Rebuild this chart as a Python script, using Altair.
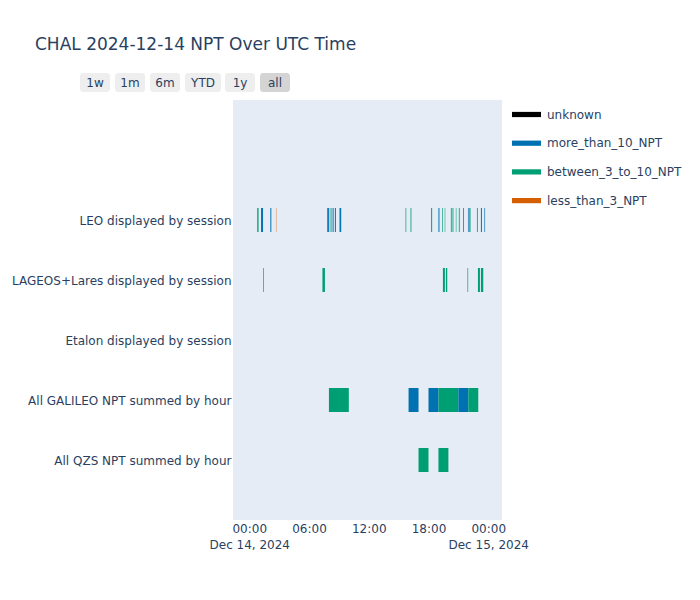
import json
import altair as alt
import pandas as pd

FONT = "DejaVu Sans"
TXT = "#2a3f5f"

categories = [
    "LEO displayed by session",
    "LAGEOS+Lares displayed by session",
    "Etalon displayed by session",
    "All GALILEO NPT summed by hour",
    "All QZS NPT summed by hour",
]
status_names = ["unknown", "more_than_10_NPT", "between_3_to_10_NPT", "less_than_3_NPT"]
status_colors = ["#000000", "#0072B2", "#009E73", "#D55E00"]

# LEO sessions (UTC, Dec 14)
leo_start = ["00:48", "01:11", "02:07", "02:41", "07:50", "08:05", "08:16", "08:25",
             "08:36", "09:04", "15:42", "16:12", "18:16", "19:00", "19:22", "19:38",
             "20:15", "20:25", "20:45", "21:03", "21:28", "21:58", "22:06", "22:52",
             "23:16", "23:37"]
leo_end = ["00:56", "01:23", "02:13", "02:43", "08:00", "08:09", "08:21", "08:29",
           "08:42", "09:14", "15:46", "16:17", "18:22", "19:06", "19:26", "19:41",
           "20:20", "20:30", "20:48", "21:08", "21:33", "22:02", "22:13", "22:57",
           "23:22", "23:41"]
leo_status = ["between_3_to_10_NPT", "more_than_10_NPT", "more_than_10_NPT", "less_than_3_NPT",
              "more_than_10_NPT", "between_3_to_10_NPT", "more_than_10_NPT", "between_3_to_10_NPT",
              "more_than_10_NPT", "more_than_10_NPT", "between_3_to_10_NPT", "between_3_to_10_NPT",
              "between_3_to_10_NPT", "more_than_10_NPT", "between_3_to_10_NPT", "between_3_to_10_NPT",
              "between_3_to_10_NPT", "between_3_to_10_NPT", "between_3_to_10_NPT", "between_3_to_10_NPT",
              "between_3_to_10_NPT", "more_than_10_NPT", "between_3_to_10_NPT", "between_3_to_10_NPT",
              "more_than_10_NPT", "more_than_10_NPT"]

# LAGEOS+Lares sessions
lag_start = ["01:24", "07:21", "19:27", "19:45", "21:55", "22:58", "23:16"]
lag_end = ["01:28", "07:36", "19:39", "19:53", "21:59", "23:10", "23:30"]
lag_status = ["between_3_to_10_NPT"] * 7

# GALILEO hourly (consecutive hours of the same class joined)
gal_start = ["08:00", "16:00", "18:00", "19:00", "21:00", "22:00"]
gal_end = ["10:00", "17:00", "19:00", "21:00", "22:00", "23:00"]
gal_status = ["between_3_to_10_NPT", "more_than_10_NPT", "more_than_10_NPT",
              "between_3_to_10_NPT", "more_than_10_NPT", "between_3_to_10_NPT"]

# QZS hourly
qzs_start = ["17:00", "19:00"]
qzs_end = ["18:00", "20:00"]
qzs_status = ["between_3_to_10_NPT", "between_3_to_10_NPT"]

btn_labels = ["1w", "1m", "6m", "YTD", "1y", "all"]
btn_fill = ["#eeeeee", "#eeeeee", "#eeeeee", "#eeeeee", "#eeeeee", "#d4d4d4"]
btn_x0 = [-153, -118, -83, -48, -8, 27]
btn_x1 = [-123, -88, -53, -12, 22, 57]

rows = []
def add(cat, starts, ends, stats):
    for s, e, st in zip(starts, ends, stats):
        rows.append({
            "category": cat,
            "row": len(categories) - 1 - categories.index(cat),
            "start": f"2024-12-14T{s}:00Z",
            "end": f"2024-12-14T{e}:00Z",
            "status": st,
        })

add(categories[0], leo_start, leo_end, leo_status)
add(categories[1], lag_start, lag_end, lag_status)
add(categories[3], gal_start, gal_end, gal_status)
add(categories[4], qzs_start, qzs_end, qzs_status)
df = pd.DataFrame(rows)

ylabels = json.dumps(list(reversed(categories)))
xlabel_expr = ("utchours(datum.value) == 0 ? [utcFormat(datum.value, '%H:%M'), "
               "utcFormat(datum.value, '%b %d, %Y')] : utcFormat(datum.value, '%H:%M')")

x_ticks = [alt.DateTime(year=2024, month=12, date=14, hours=h, utc=True) for h in (0, 6, 12, 18)] + \
          [alt.DateTime(year=2024, month=12, date=15, hours=0, utc=True)]
x_dom = [alt.DateTime(year=2024, month=12, date=13, hours=22, minutes=22, utc=True),
         alt.DateTime(year=2024, month=12, date=15, hours=1, minutes=23, utc=True)]

bars = alt.Chart(df).transform_calculate(
    y0="datum.row - 0.2", y1="datum.row + 0.2"
).mark_rect().encode(
    x=alt.X("start:T", scale=alt.Scale(type="utc", domain=x_dom, nice=False),
            axis=alt.Axis(values=x_ticks, labelExpr=xlabel_expr, title=None, grid=False,
                          ticks=False, domain=False, labelPadding=3, labelFont=FONT,
                          labelFontSize=12, labelColor=TXT, labelOverlap=False,
                          labelFlush=False, labelBound=False, labelLineHeight=16)),
    x2="end:T",
    y=alt.Y("y0:Q", scale=alt.Scale(domain=[-1, 6], nice=False, zero=False),
            axis=alt.Axis(values=[0, 1, 2, 3, 4], labelExpr=f"{ylabels}[datum.value]",
                          title=None, grid=False, ticks=False, domain=False,
                          labelPadding=2, labelFont=FONT, labelFontSize=12,
                          labelColor=TXT, labelLimit=0)),
    y2="y1:Q",
    color=alt.Color("status:N", scale=alt.Scale(domain=status_names, range=status_colors),
                    legend=alt.Legend(title=None, orient="none", legendX=279, legendY=0,
                                      symbolType="M-1,-0.18H1V0.18H-1Z", symbolSize=841,
                                      symbolStrokeWidth=0, symbolOpacity=1, rowPadding=7.7,
                                      labelOffset=6, labelFont=FONT, labelFontSize=12,
                                      labelColor=TXT, padding=0)),
)

layers = [bars]
for lab, f, a, b in zip(btn_labels, btn_fill, btn_x0, btn_x1):
    d = pd.DataFrame({"label": [lab]})
    layers.append(alt.Chart(d).mark_rect(cornerRadius=3, fill=f).encode(
        x=alt.value(a), x2=alt.value(b), y=alt.value(-27), y2=alt.value(-8)))
    layers.append(alt.Chart(d).mark_text(font=FONT, fontSize=12, color=TXT,
                                         baseline="middle", align="center").encode(
        x=alt.value((a + b) / 2), y=alt.value(-17.5), text="label:N"))

chart = alt.layer(*layers).properties(
    width=269, height=420,
    background="white",
    title=alt.TitleParams("CHAL 2024-12-14 NPT Over UTC Time", anchor="start", frame="group",
                          dx=-198, offset=6, baseline="alphabetic", font=FONT,
                          fontSize=17, fontWeight="normal", color=TXT),
    autosize=alt.AutoSizeParams(type="none"),
    padding={"left": 225, "top": 92, "right": 190, "bottom": 72},
).configure_view(fill="#E5ECF6", stroke=None)

chart.save("out.html", embed_options={"renderer": "svg", "actions": False})
